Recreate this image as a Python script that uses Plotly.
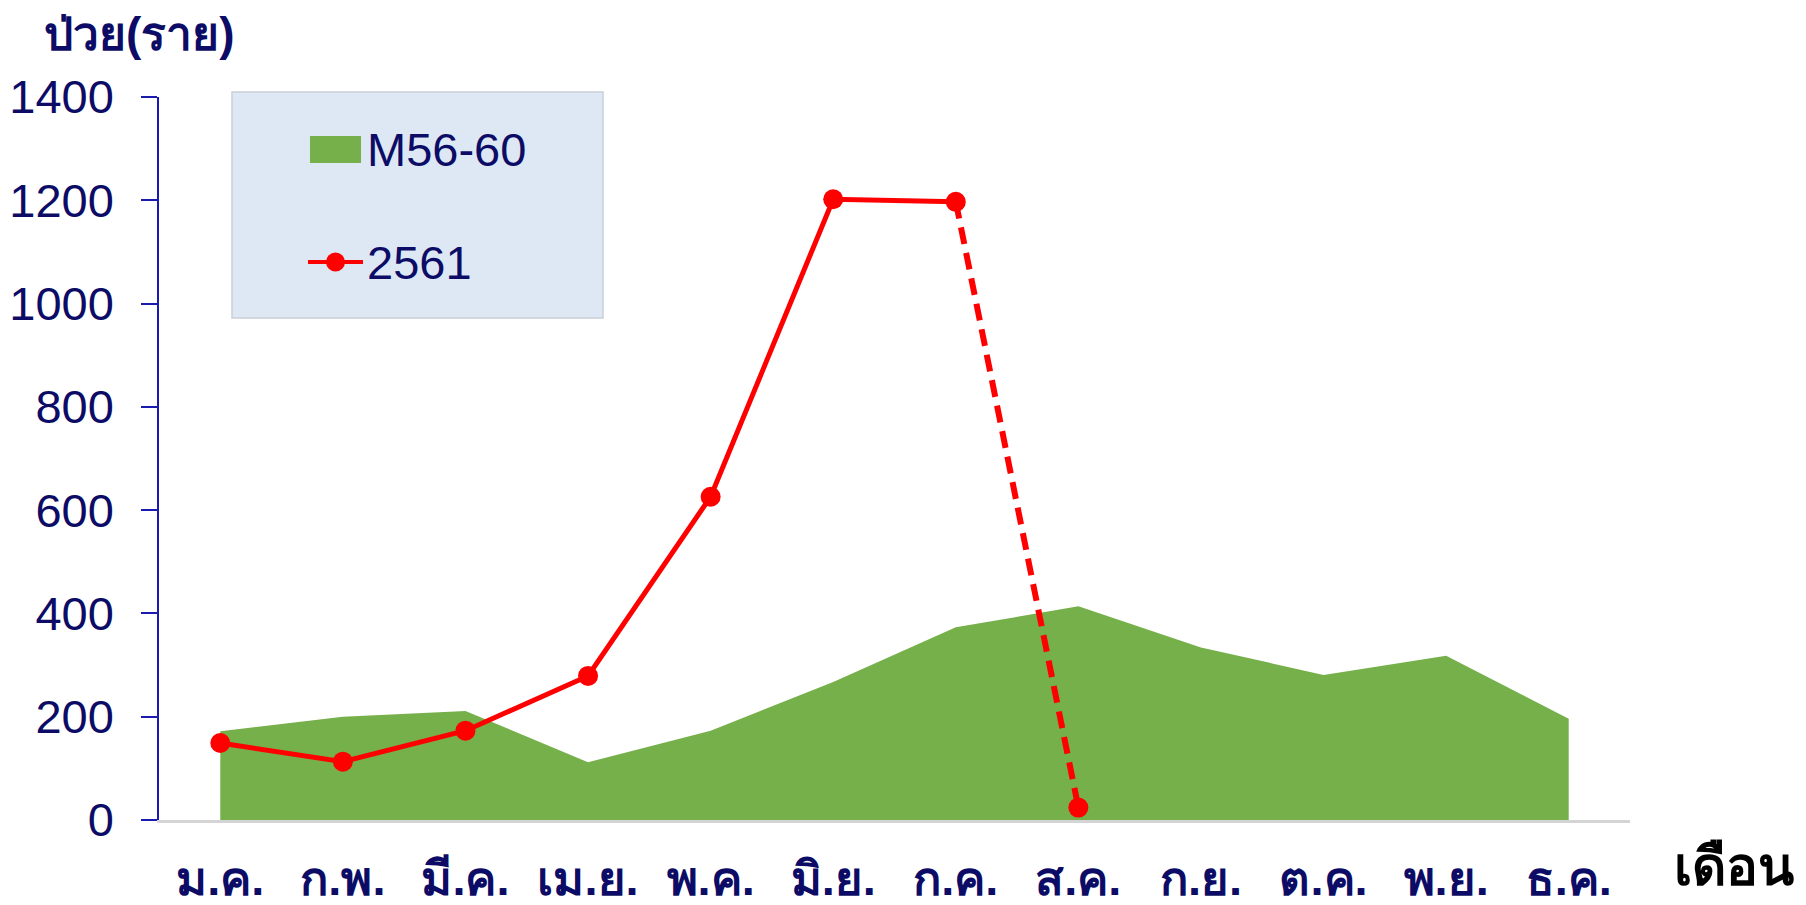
import plotly.graph_objects as go

months = ["ม.ค.", "ก.พ.", "มี.ค.", "เม.ย.", "พ.ค.", "มิ.ย.", "ก.ค.", "ส.ค.", "ก.ย.", "ต.ค.", "พ.ย.", "ธ.ค."]
median_56_60 = [172, 200, 211, 112, 173, 267, 373, 414, 334, 281, 318, 196]
cases_2561 = [149, 113, 173, 279, 626, 1202, 1197, 24]
solid_count = 7  # Jan..Jul solid, Jul->Aug dashed

W, H = 1806, 905
L, R, T, B = 159, 176, 97, 85
PW, PH = W - L - R, H - T - B

def px(x):
    return (x - L) / PW

def py(y):
    return (H - B - y) / PH

NAVY = "#0c0c66"
FONT = "Tahoma, 'Liberation Sans', Arial, sans-serif"
x_idx = list(range(len(months)))

fig = go.Figure()
fig.add_trace(go.Scatter(
    x=x_idx, y=median_56_60, mode="lines", fill="tozeroy",
    fillcolor="#75b04a", line=dict(width=0, color="#75b04a"),
    name="M56-60", showlegend=False, hoverinfo="x+y"))
fig.add_trace(go.Scatter(
    x=x_idx[solid_count - 1:len(cases_2561)], y=cases_2561[solid_count - 1:],
    mode="lines", line=dict(color="#ff0000", width=6, dash="17px,9px"),
    showlegend=False, hoverinfo="skip"))
fig.add_trace(go.Scatter(
    x=x_idx[:solid_count], y=cases_2561[:solid_count], mode="lines",
    line=dict(color="#ff0000", width=5), showlegend=False, hoverinfo="skip"))
fig.add_trace(go.Scatter(
    x=x_idx[:len(cases_2561)], y=cases_2561, mode="markers",
    marker=dict(color="#ff0000", size=20), name="2561", showlegend=False))

fig.update_layout(
    width=W, height=H, autosize=False,
    margin=dict(l=L, r=R, t=T, b=B, pad=0, autoexpand=False),
    paper_bgcolor="white", plot_bgcolor="white",
    font=dict(family=FONT, color=NAVY),
    xaxis=dict(
        range=[-0.5, 11.5], tickmode="array", tickvals=x_idx, ticktext=months,
        showgrid=False, zeroline=False, showline=True, linecolor="#d4d4d4", linewidth=3,
        ticks="", tickfont=dict(size=47, color=NAVY, family=FONT, weight="bold"),
        ticklabelstandoff=16, automargin=False),
    yaxis=dict(
        range=[0, 1400], tickvals=[0, 200, 400, 600, 800, 1000, 1200, 1400],
        showgrid=False, zeroline=False, showline=True, linecolor="#1a1ab0", linewidth=1.5,
        ticks="outside", ticklen=16, tickcolor="#1a1ab0", tickwidth=1.5,
        tickfont=dict(size=47, color=NAVY, family=FONT),
        ticklabelstandoff=18, automargin=False),
    showlegend=False,
)

# custom legend box
fig.add_shape(type="rect", xref="paper", yref="paper",
              x0=px(232), x1=px(603), y0=py(318), y1=py(92),
              fillcolor="#dde8f4", line=dict(color="#c9cfd8", width=1.5), layer="above")
fig.add_shape(type="rect", xref="paper", yref="paper",
              x0=px(310), x1=px(361), y0=py(163), y1=py(136),
              fillcolor="#75b04a", line=dict(width=0), layer="above")
fig.add_shape(type="line", xref="paper", yref="paper",
              x0=px(308), x1=px(363), y0=py(262), y1=py(262),
              line=dict(color="#ff0000", width=4), layer="above")
fig.add_shape(type="circle", xref="paper", yref="paper",
              x0=px(326), x1=px(345), y0=py(271.5), y1=py(252.5),
              fillcolor="#ff0000", line=dict(width=0), layer="above")
fig.add_annotation(xref="paper", yref="paper", x=px(365), y=py(150),
                   text="M56-60", showarrow=False, xanchor="left", yanchor="middle",
                   font=dict(size=47, color=NAVY, family=FONT))
fig.add_annotation(xref="paper", yref="paper", x=px(365), y=py(262),
                   text="2561", showarrow=False, xanchor="left", yanchor="middle",
                   font=dict(size=47, color=NAVY, family=FONT))

# axis titles
fig.add_annotation(xref="paper", yref="paper", x=px(42), y=py(34),
                   text="ป่วย(ราย)", showarrow=False, xanchor="left", yanchor="middle",
                   font=dict(size=46, color=NAVY, family=FONT, weight="bold"))
fig.add_annotation(xref="paper", yref="paper", x=px(1672), y=py(866),
                   text="เดือน", showarrow=False, xanchor="left", yanchor="middle",
                   font=dict(size=53, color="#000000", family=FONT, weight="bold"))

fig.write_html("out.html")
